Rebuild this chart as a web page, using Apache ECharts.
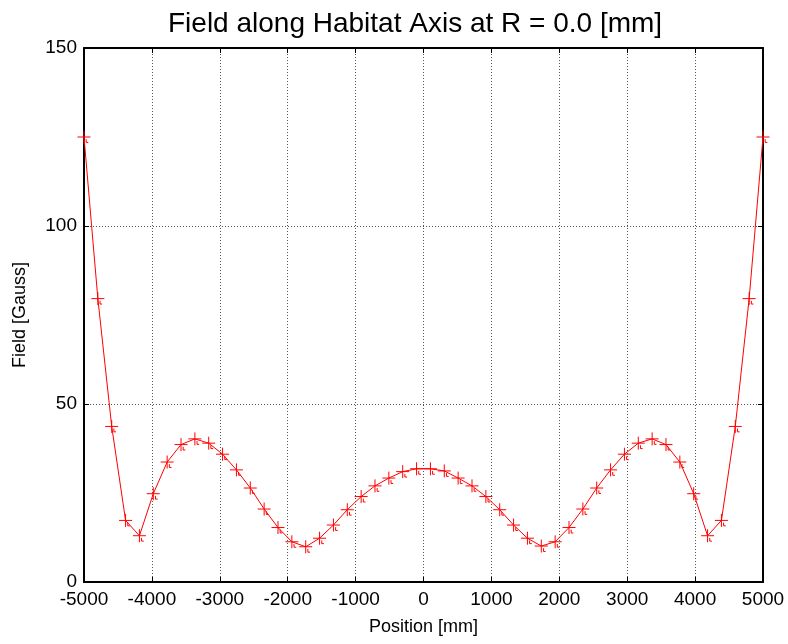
<!DOCTYPE html>
<html>
<head>
<meta charset="utf-8">
<script src="https://cdn.jsdelivr.net/npm/echarts@6/dist/echarts.min.js"></script>
<style>html,body{margin:0;padding:0;background:#fff;}#c{width:788px;height:644px;}</style>
</head>
<body>
<div id="c"></div>
<script>
var positions = [-5000, -4795.9, -4591.8, -4387.8, -4183.7, -3979.6, -3775.5, -3571.4, -3367.3, -3163.3,
  -2959.2, -2755.1, -2551.0, -2346.9, -2142.9, -1938.8, -1734.7, -1530.6, -1326.5, -1122.4,
  -918.4, -714.3, -510.2, -306.1, -102.0, 102.0, 306.1, 510.2, 714.3, 918.4,
  1122.4, 1326.5, 1530.6, 1734.7, 1938.8, 2142.9, 2346.9, 2551.0, 2755.1, 2959.2,
  3163.3, 3367.3, 3571.4, 3775.5, 3979.6, 4183.7, 4387.8, 4591.8, 4795.9, 5000];
var field = [125.0, 79.6, 43.7, 17.3, 13.0, 24.8, 33.7, 38.6, 40.2, 39.0,
  35.9, 31.5, 26.4, 20.5, 15.3, 11.3, 9.9, 12.3, 16.0, 20.3,
  24.0, 27.0, 29.2, 31.0, 31.8, 31.8, 31.2, 29.2, 27.0, 24.0,
  20.3, 16.0, 12.3, 10.1, 11.3, 15.3, 20.5, 26.4, 31.5, 35.9,
  39.0, 40.2, 38.6, 33.7, 24.8, 13.0, 17.3, 43.7, 79.6, 125.0];
var xTicks = [-5000, -4000, -3000, -2000, -1000, 0, 1000, 2000, 3000, 4000, 5000];
var yTicks = [0, 50, 100, 150];

var FONT = 'Liberation Sans';
var data = positions.map(function (p, i) { return [p, field[i]]; });
var gridLine = { show: true, lineStyle: { color: '#555', type: [1, 2], width: 1 } };
var boxLine = { show: true, onZero: false, lineStyle: { color: '#000', width: 2 } };
var tick = { show: true, inside: true, length: 5, lineStyle: { color: '#000', width: 1 } };
var plain = function (v) { return String(v); };

var chart = echarts.init(document.getElementById('c'), null, { renderer: 'canvas' });
chart.setOption({
  animation: false,
  backgroundColor: '#fff',
  title: {
    text: 'Field along Habitat Axis at R = 0.0 [mm]',
    left: 163, top: 5,
    textStyle: { fontFamily: FONT, fontSize: 28, fontWeight: 'normal', color: '#000' }
  },
  grid: { left: 84, right: 25, top: 48, bottom: 62 },
  xAxis: [{
    type: 'value', min: xTicks[0], max: xTicks[xTicks.length - 1], interval: 1000,
    position: 'bottom',
    name: 'Position [mm]', nameLocation: 'middle', nameGap: 36,
    nameTextStyle: { fontFamily: FONT, fontSize: 18, color: '#000' },
    axisLine: boxLine, axisTick: tick,
    axisLabel: { fontFamily: FONT, fontSize: 19, color: '#000', margin: 8, formatter: plain },
    splitLine: gridLine
  }, {
    type: 'value', min: xTicks[0], max: xTicks[xTicks.length - 1], interval: 1000,
    position: 'top',
    axisLine: boxLine, axisTick: tick, axisLabel: { show: false }, splitLine: { show: false }
  }],
  yAxis: [{
    type: 'value', min: yTicks[0], max: yTicks[yTicks.length - 1], interval: 50,
    position: 'left',
    name: 'Field [Gauss]', nameLocation: 'middle', nameGap: 55,
    nameTextStyle: { fontFamily: FONT, fontSize: 18, color: '#000' },
    axisLine: boxLine, axisTick: tick,
    axisLabel: { fontFamily: FONT, fontSize: 19, color: '#000', margin: 7, formatter: plain },
    splitLine: gridLine
  }, {
    type: 'value', min: yTicks[0], max: yTicks[yTicks.length - 1], interval: 50,
    position: 'right',
    axisLine: boxLine, axisTick: tick, axisLabel: { show: false }, splitLine: { show: false }
  }],
  series: [{
    type: 'line',
    data: data,
    lineStyle: { color: '#ff0000', width: 1 },
    symbol: 'path://M0,6 L12,6 M6,0 L6,12 M8,8 L8,11 L10,11',
    symbolSize: 13,
    symbolKeepAspect: true,
    itemStyle: { color: 'rgba(0,0,0,0)', borderColor: '#ff0000', borderWidth: 1 },
    z: 5
  }]
});
</script>
</body>
</html>
